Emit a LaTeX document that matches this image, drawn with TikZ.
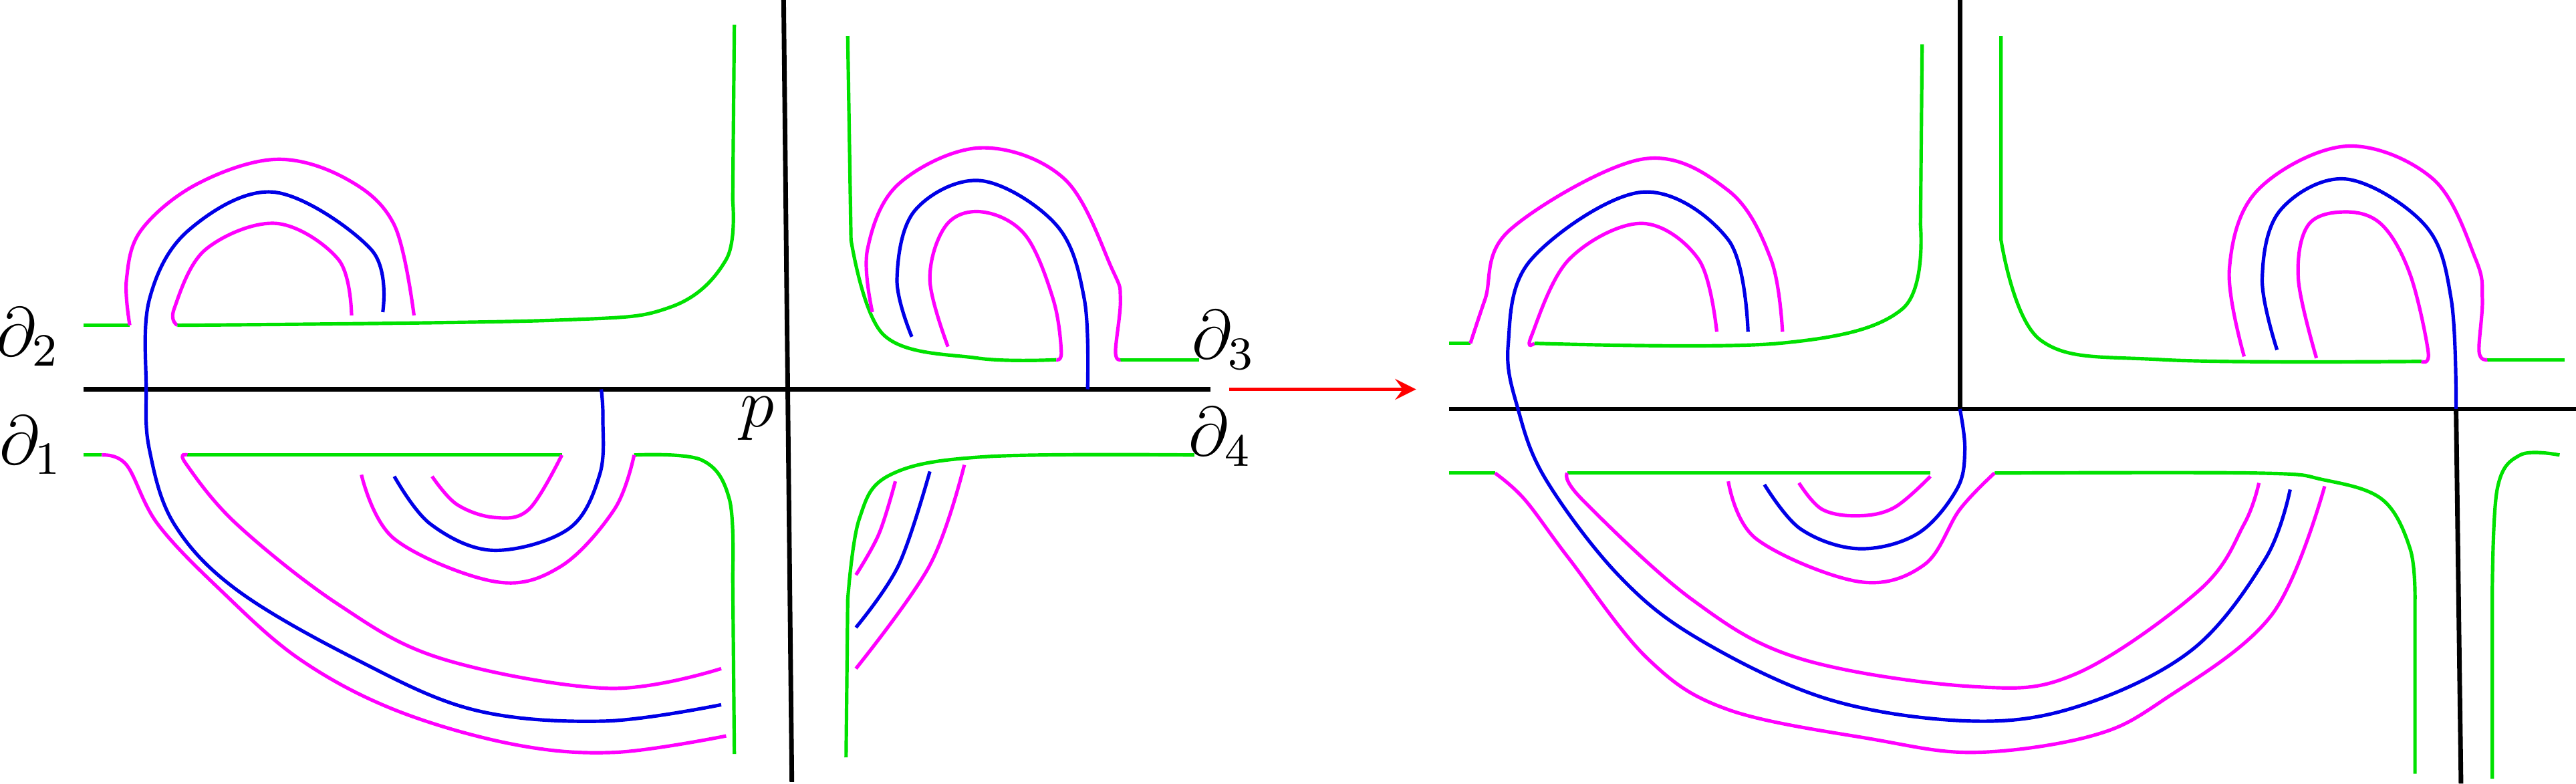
\documentclass[tikz,border=0pt]{standalone}
\usepackage{amsmath,amssymb}
\usepackage{tikz}
\usetikzlibrary{arrows,positioning}
\definecolor{grn}{RGB}{0,225,0}
\definecolor{mag}{RGB}{255,0,255}
\definecolor{blu}{RGB}{0,0,230}
\begin{document}
\begin{tikzpicture}[
    x=0.1mm, y=-0.1mm,
    gline/.style={grn, line width=0.6pt},
    mline/.style={mag, line width=0.6pt},
    bline/.style={blu, line width=0.6pt},
    axis/.style={black, line width=0.8pt},
    lab/.style={font=\large, inner sep=0pt}
]
    \useasboundingbox (0,0) rectangle (1568,477);
    % left picture: axes
    \draw[axis] (51,237) -- (737,237);
    \draw[axis] (477,0) -- (482,476);
    \node[lab] (d2) at (17,205) {$\partial_2$};
    \node[lab] (d1) at (19,271) {$\partial_1$};
    \node[lab] (d3) at (745,207) {$\partial_3$};
    \node[lab] (d4) at (743,266) {$\partial_4$};
    \node[lab] (pt) at (461,255) {$p$};
    % left picture: upper left
    \draw[gline] (51,198) -- (79,198);
    \draw[mline] plot[smooth, tension=0.6] coordinates {(79,198) (77,170) (86,140) (120,112) (168,97) (211,109) (240,137) (252,192)};
    \draw[bline] plot[smooth, tension=0.6] coordinates {(233,190) (226,152) (167,117) (115,140) (91,182) (89,237) (91,274) (106,319) (144,359) (216,401) (288,432) (367,439) (439,429)};
    \draw[mline] plot[smooth, tension=0.6] coordinates {(214,192) (206,158) (168,136) (125,152) (106,188) (108,198)};
    \draw[gline] plot[smooth, tension=0.6] coordinates {(108,198) (336,195) (408,187) (442,158) (446,122)} -- (447,15);
    % left picture: upper right
    \draw[gline] (516,22) -- plot[smooth, tension=0.6] coordinates {(518,146) (538,204) (595,218) (643,219)};
    \draw[gline] (682,219) -- (730,219);
    \draw[mline] plot[smooth, tension=0.6] coordinates {(531,190) (528,152) (547,112) (597,90) (648,109) (677,164) (682,182) (679,214) (682,219)};
    \draw[bline] plot[smooth, tension=0.6] coordinates {(662,237) (660,182) (643,137) (597,110) (557,128) (546,170) (555,205)};
    \draw[mline] plot[smooth, tension=0.6] coordinates {(577,211) (566,170) (576,137) (598,129) (624,143) (641,182) (646,214) (643,219)};
    % left picture: lower left
    \draw[gline] (51,277) -- (62,277);
    \draw[mline] plot[smooth, tension=0.6] coordinates {(62,277) (77,283) (96,319) (134,359) (182,401) (240,432) (312,453) (374,458) (442,448)};
    \draw[gline] (114,277) -- (342,277);
    \draw[mline] plot[smooth, tension=0.6] coordinates {(114,277) (113,282) (144,319) (206,368) (269,401) (370,419) (439,407)};
    \draw[gline] plot[smooth, tension=0.6] coordinates {(386,277) (427,280) (444,304) (446,350)} -- (447,459);
    \draw[mline] plot[smooth, tension=0.6] coordinates {(220,289) (240,328) (301,354) (341,345) (374,310) (386,277)};
    \draw[bline] plot[smooth, tension=0.6] coordinates {(240,290) (262,319) (300,335) (346,322) (365,289) (367,255) (366,237)};
    \draw[mline] plot[smooth, tension=0.6] coordinates {(263,290) (278,307) (301,315) (322,310) (342,277)};
    % left picture: lower right
    \draw[gline] plot[smooth, tension=0.6] coordinates {(727,277) (600,278) (542,289) (523,316) (516,365)} -- (515,461);
    \draw[mline] plot[smooth, tension=0.6] coordinates {(545,293) (535,325) (521,350)};
    \draw[bline] plot[smooth, tension=0.6] coordinates {(566,287) (547,344) (521,382)};
    \draw[mline] plot[smooth, tension=0.6] coordinates {(587,283) (566,344) (521,407)};
    % arrow
    \coordinate (arrS) at (748,237);
    \coordinate (arrE) at (862,237);
    \draw[red, line width=0.6pt, -stealth] (arrS) -- (arrE);
    % right picture: axes
    \draw[axis] (882,249) -- (1568,249);
    \draw[axis] (1193,0) -- (1193,249);
    \draw[axis] (1495,249) -- (1498,477);
    % right picture: upper left
    \draw[gline] (882,209) -- (895,209);
    \draw[mline] plot[smooth, tension=0.6] coordinates {(895,209) (904,182) (919,140) (999,97) (1052,116) (1078,158) (1085,202)};
    \draw[bline] plot[smooth, tension=0.6] coordinates {(1064,202) (1052,146) (999,117) (932,158) (918,210) (924,249) (941,292) (985,350) (1034,389) (1114,426) (1202,439) (1268,429) (1335,395) (1379,340) (1394,298)};
    \draw[mline] plot[smooth, tension=0.6] coordinates {(1045,202) (1034,158) (999,136) (955,158) (932,205) (934,209)};
    \draw[gline] plot[smooth, tension=0.6] coordinates {(934,209) (1083,209) (1158,188) (1169,137)} -- (1170,27);
    % right picture: upper right
    \draw[gline] (1218,22) -- plot[smooth, tension=0.6] coordinates {(1218,146) (1242,207) (1317,219) (1474,220)};
    \draw[gline] (1514,219) -- (1561,219);
    \draw[mline] plot[smooth, tension=0.6] coordinates {(1366,217) (1357,164) (1374,116) (1428,89) (1481,109) (1507,158) (1511,182) (1509,214) (1514,219)};
    \draw[bline] plot[smooth, tension=0.6] coordinates {(1495,249) (1492,182) (1476,137) (1428,109) (1388,128) (1377,170) (1386,213)};
    \draw[mline] plot[smooth, tension=0.6] coordinates {(1410,218) (1399,170) (1405,137) (1428,129) (1450,137) (1467,167) (1478,214) (1474,220)};
    % right picture: lower part
    \draw[gline] (882,288) -- (910,288);
    \draw[mline] plot[smooth, tension=0.6] coordinates {(910,288) (928,304) (955,340) (1003,401) (1052,432) (1140,450) (1202,458) (1273,448) (1317,426) (1383,374) (1415,296)};
    \draw[gline] (954,288) -- (1175,288);
    \draw[mline] plot[smooth, tension=0.6] coordinates {(954,288) (963,304) (1030,365) (1096,401) (1202,418) (1264,410) (1339,359) (1366,319) (1375,294)};
    \draw[gline] plot[smooth, tension=0.6] coordinates {(1214,288) (1374,288) (1414,292) (1450,304) (1467,334) (1470,365)} -- (1470,471);
    \draw[gline] plot[smooth, tension=0.6] coordinates {(1558,277) (1534,277) (1520,298) (1517,365)} -- (1517,474);
    \draw[bline] plot[smooth, tension=0.6] coordinates {(1193,249) (1196,274) (1191,298) (1167,325) (1131,334) (1096,322) (1074,295)};
    \draw[mline] plot[smooth, tension=0.6] coordinates {(1052,293) (1069,328) (1131,354) (1171,344) (1193,310) (1214,288)};
    \draw[mline] plot[smooth, tension=0.6] coordinates {(1095,294) (1109,310) (1131,314) (1153,309) (1175,290)};
\end{tikzpicture}
\end{document}
